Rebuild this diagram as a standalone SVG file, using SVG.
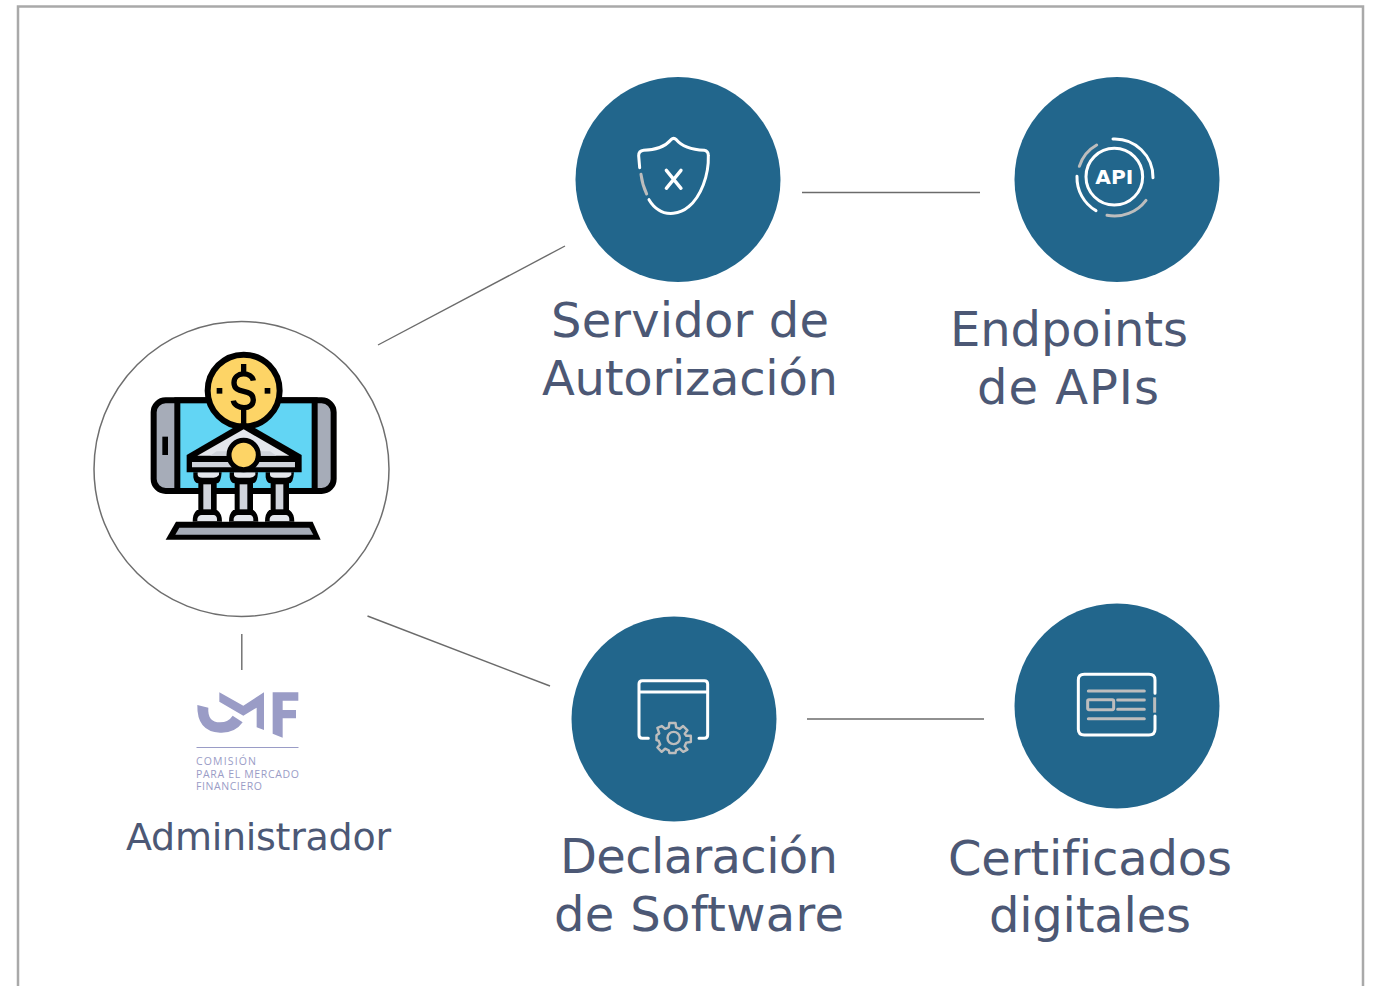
<svg xmlns="http://www.w3.org/2000/svg" width="1373" height="986" viewBox="0 0 1373 986">
<style>
.lbl{font-family:"DejaVu Sans",Verdana,sans-serif;font-size:48px;fill:#4c5875;text-anchor:middle;font-variant-ligatures:none}
.conn{stroke:#6b6b6b;stroke-width:1.400;fill:none}
.disc{fill:#22668c}
.w{fill:none;stroke:#fff;stroke-linecap:round;stroke-linejoin:round}
.g{fill:none;stroke:#bdbdbd;stroke-linecap:round;stroke-linejoin:round}
.small{font-family:"Open Sans",sans-serif;font-size:10.500px;fill:#9a9cc6}
</style>
<defs>
<g id="col">
<path d="M-41 97V112Q-38 130 -26 130V210H-30Q-43 220 -43 245H45Q45 220 30 210H29V130Q42 130 44 97Z" fill="#000"/>
<path d="M-28 97H36V105Q30 113 20 113H-14Q-26 113 -28 105Z" fill="#e3e6ec"/>
<rect x="-11" y="133" width="23" height="75" fill="#d0d4dc"/>
<path d="M-29 243V236Q-26 225 -16 225H20Q28 225 30 236V243Z" fill="#e3e6ec"/>
</g>
</defs>
<rect width="1373" height="986" fill="#fff"/>
<path d="M18 986V6.500H1363V986" fill="none" stroke="#a9a9a9" stroke-width="2.500"/>
<g id="connectors">
<path class="conn" d="M378 345L565 246"/>
<path class="conn" d="M802 192.500H980"/>
<path class="conn" d="M367.500 616L550 686"/>
<path class="conn" d="M807 719H984"/>
<path class="conn" d="M241.800 634V670"/>
</g>
<g id="admin">
<circle cx="241.500" cy="469" r="147.500" fill="#fff" stroke="#6e6e6e" stroke-width="1.500"/>
<g transform="translate(140 340) scale(.3333)">
<rect x="41" y="181" width="540" height="272" rx="36" fill="#a6acb8" stroke="#000" stroke-width="18"/>
<rect x="112" y="181" width="412" height="272" fill="#62d5f4" stroke="#000" stroke-width="18"/>
<rect x="67" y="290" width="17" height="55" fill="#000"/>
<circle cx="311" cy="152" r="108" fill="#fdd466" stroke="#000" stroke-width="18"/>
<path d="M311 72V100M311 205V250" stroke="#000" stroke-width="16" fill="none"/>
<path d="M340 122C336 94 282 94 282 128C282 166 340 142 340 180C340 212 284 208 280 182" fill="none" stroke="#000" stroke-width="16"/>
<rect x="230" y="144" width="17" height="17" fill="#000"/>
<rect x="374" y="144" width="17" height="17" fill="#000"/>
</g>
<g transform="translate(160 440) scale(.3333)">
<use href="#col" x="141"/>
<use href="#col" x="250"/>
<use href="#col" x="358"/>
<path d="M251 -55L425 45V97H80V45Z" fill="#000"/>
<path d="M251 -32L388 47H112Z" fill="#e3e6ec"/>
<path d="M150 47H350L330 34H170Z" fill="#cfd3db"/>
<path d="M96 66H405V82H96Z" fill="#cfd3db"/>
<path d="M85 57H200M330 57H415" stroke="#000" stroke-width="17" fill="none"/>
<circle cx="251" cy="45" r="44" fill="#fdd466" stroke="#000" stroke-width="15"/>
<path d="M48 245H458L482 299H17Z" fill="#000"/>
<path d="M58 263H448L460 284H46Z" fill="#a6acb8"/>
</g>
</g>
<g id="cmf-logo">
<g transform="translate(190 685) scale(.3333)" fill="#9a9cc6">
<path d="M22 60L55 68Q52 112 90 112Q115 112 128 92L158 112Q135 145 90 143Q20 140 22 60Z"/>
<path d="M88 22L160 62L222 22V135L200 127V68L160 92L88 50Z"/>
<path d="M248 22H325V47H278V75H318V100H278V158L248 146Z"/>
</g>
<rect x="196.500" y="747" width="102" height="1" fill="#9a9cc6"/>
<text class="small" x="196" y="765" textLength="60" lengthAdjust="spacing">COMISIÓN</text>
<text class="small" x="196" y="777.500" textLength="103" lengthAdjust="spacing">PARA EL MERCADO</text>
<text class="small" x="196" y="790" textLength="66" lengthAdjust="spacing">FINANCIERO</text>
<text class="lbl" x="258.500" y="850" style="font-size:38px" textLength="265" lengthAdjust="spacing">Administrador</text>
</g>
<g id="servidor">
<circle class="disc" cx="678" cy="179.500" r="102.500"/>
<g transform="translate(625 125) scale(.3333)">
<path class="w" style="stroke-width:9" d="M44 128L41 92Q41 78 56 76C90 74 118 68 138 44Q146 36 154 44C174 68 204 74 238 76Q250 78 250 92C252 150 228 215 190 246C165 268 125 272 100 254Q84 244 72 224"/>
<path class="g" style="stroke-width:9" d="M48 148Q52 180 65 207"/>
<path class="w" style="stroke-width:10" d="M124 136L168 190M168 136L124 190"/>
</g>
<text class="lbl" x="690" y="337" textLength="278" lengthAdjust="spacing">Servidor de</text>
<text class="lbl" x="690" y="395" textLength="296" lengthAdjust="spacing">Autorización</text>
</g>
<g id="endpoints">
<circle class="disc" cx="1117" cy="179.500" r="102.500"/>
<g transform="translate(1065 125) scale(.3333)">
<circle cx="148" cy="155" r="85" fill="none" stroke="#fff" stroke-width="9"/>
<path class="w" style="stroke-width:9" d="M144 42A115 115 0 0 1 264 158"/>
<path class="g" style="stroke-width:9" d="M95 60A112 112 0 0 0 43 124"/>
<path class="w" style="stroke-width:9" d="M36 154A115 115 0 0 0 93 257"/>
<path class="g" style="stroke-width:9" d="M126 271A118 118 0 0 0 243 226"/>
<text x="148" y="176" text-anchor="middle" fill="#fff" font-family="'DejaVu Sans',sans-serif" font-weight="700" font-size="58" textLength="114" lengthAdjust="spacingAndGlyphs">API</text>
</g>
<text class="lbl" x="1069" y="346" textLength="238" lengthAdjust="spacing">Endpoints</text>
<text class="lbl" x="1068" y="404" textLength="182" lengthAdjust="spacing">de APIs</text>
</g>
<g id="declaracion">
<circle class="disc" cx="674" cy="719" r="102.500"/>
<g transform="translate(625 670) scale(.3333)">
<path class="w" style="stroke-width:9" d="M70 205H52Q42 205 42 195V42Q42 32 52 32H238Q248 32 248 42V195Q248 205 238 205H222M42 66H248"/>
<g fill="none" stroke="#bdbdbd" stroke-width="8" stroke-linejoin="round" transform="translate(146 204) scale(.92) translate(-150 -205)">
<circle cx="150" cy="205" r="20"/>
<path d="M136 156H156L158 170L170 175L181 166L195 180L186 191L191 198H206V218L191 220L186 232L195 243L181 250L170 240L158 245L156 254H136L134 245L122 240L111 250L97 236L106 226L101 214L94 212V196L103 190L97 172L111 166L122 175L134 170Z"/>
</g>
</g>
<text class="lbl" x="699" y="873" textLength="278" lengthAdjust="spacing">Declaración</text>
<text class="lbl" x="699" y="931" textLength="290" lengthAdjust="spacing">de Software</text>
</g>
<g id="certificados">
<circle class="disc" cx="1117" cy="706" r="102.500"/>
<g transform="translate(1065 660) scale(.3333)">
<path class="w" style="stroke-width:9" d="M270 100V60Q270 43 252 43H58Q40 43 40 60V208Q40 225 58 225H252Q270 225 270 208V168"/>
<path class="g" style="stroke-width:9;stroke-linecap:butt" d="M269 112V158"/>
<path class="g" style="stroke-width:9" d="M70 93H238M70 176H238M158 120H238M158 148H238"/>
<rect x="68" y="119" width="78" height="30" rx="4" class="g" style="stroke-width:9"/>
</g>
<text class="lbl" x="1090" y="875" textLength="284" lengthAdjust="spacing">Certificados</text>
<text class="lbl" x="1090" y="932" textLength="202" lengthAdjust="spacing">digitales</text>
</g>
</svg>
